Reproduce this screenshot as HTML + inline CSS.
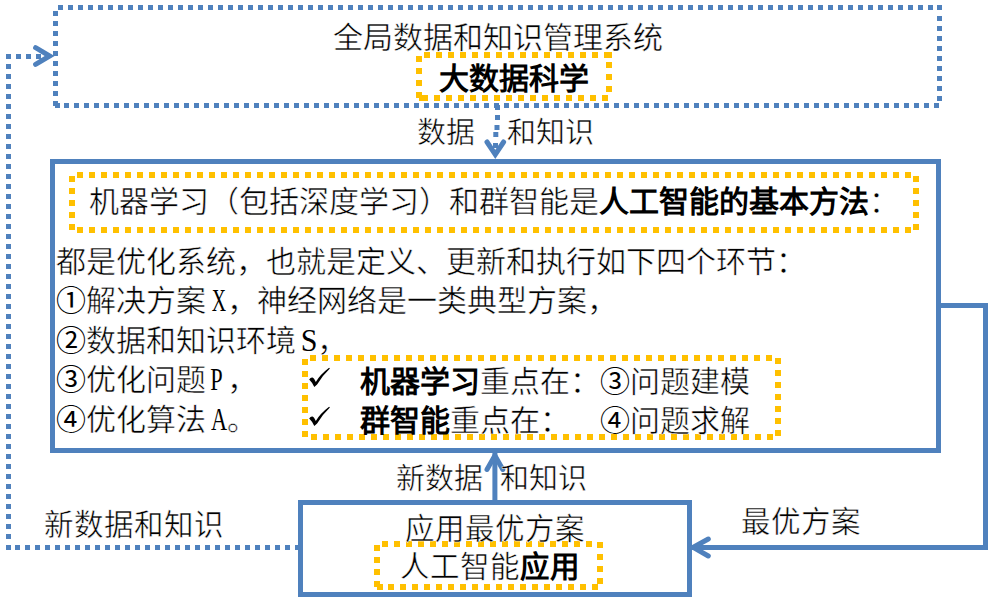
<!DOCTYPE html>
<html lang="zh-CN">
<head>
<meta charset="utf-8">
<style>
html,body{margin:0;padding:0;background:#fff;}
body{width:994px;height:605px;position:relative;overflow:hidden;font-family:"Liberation Serif",serif;color:#000;}
svg{position:absolute;left:0;top:0;}
.t{position:absolute;white-space:pre;font-size:30px;line-height:30px;-webkit-text-stroke:0.5px #fff;}
.b{font-family:"Liberation Sans",sans-serif;font-weight:bold;-webkit-text-stroke:0;}
.L{display:inline-block;width:20.5px;}
.n{-webkit-text-stroke:0;}
.L i{font-style:normal;display:inline-block;padding-left:5.5px;font-size:31px;transform:scaleX(.7);transform-origin:0 50%;-webkit-text-stroke:0;}
</style>
</head>
<body>
<svg width="994" height="605" viewBox="0 0 994 605">
<path fill="#4F81BD" d="M58 5h5v5h-5zM68 5h5v5h-5zM78 5h5v5h-5zM88 5h5v5h-5zM98 5h5v5h-5zM108 5h5v5h-5zM118 5h5v5h-5zM128 5h5v5h-5zM138 5h5v5h-5zM148 5h5v5h-5zM158 5h5v5h-5zM168 5h5v5h-5zM178 5h5v5h-5zM188 5h5v5h-5zM198 5h5v5h-5zM208 5h5v5h-5zM218 5h5v5h-5zM228 5h5v5h-5zM238 5h5v5h-5zM248 5h5v5h-5zM258 5h5v5h-5zM268 5h5v5h-5zM278 5h5v5h-5zM288 5h5v5h-5zM298 5h5v5h-5zM308 5h5v5h-5zM318 5h5v5h-5zM328 5h5v5h-5zM338 5h5v5h-5zM348 5h5v5h-5zM358 5h5v5h-5zM368 5h5v5h-5zM378 5h5v5h-5zM388 5h5v5h-5zM398 5h5v5h-5zM408 5h5v5h-5zM418 5h5v5h-5zM428 5h5v5h-5zM438 5h5v5h-5zM448 5h5v5h-5zM458 5h5v5h-5zM468 5h5v5h-5zM478 5h5v5h-5zM488 5h5v5h-5zM498 5h5v5h-5zM508 5h5v5h-5zM518 5h5v5h-5zM528 5h5v5h-5zM538 5h5v5h-5zM548 5h5v5h-5zM558 5h5v5h-5zM568 5h5v5h-5zM578 5h5v5h-5zM588 5h5v5h-5zM598 5h5v5h-5zM608 5h5v5h-5zM618 5h5v5h-5zM628 5h5v5h-5zM638 5h5v5h-5zM648 5h5v5h-5zM658 5h5v5h-5zM668 5h5v5h-5zM678 5h5v5h-5zM688 5h5v5h-5zM698 5h5v5h-5zM708 5h5v5h-5zM718 5h5v5h-5zM728 5h5v5h-5zM738 5h5v5h-5zM748 5h5v5h-5zM758 5h5v5h-5zM768 5h5v5h-5zM778 5h5v5h-5zM788 5h5v5h-5zM798 5h5v5h-5zM808 5h5v5h-5zM818 5h5v5h-5zM828 5h5v5h-5zM838 5h5v5h-5zM848 5h5v5h-5zM858 5h5v5h-5zM868 5h5v5h-5zM878 5h5v5h-5zM888 5h5v5h-5zM898 5h5v5h-5zM908 5h5v5h-5zM918 5h5v5h-5zM928 5h5v5h-5zM937 5h5v5h-5zM937 16h5v5h-5zM937 26h5v5h-5zM937 36h5v5h-5zM937 46h5v5h-5zM937 56h5v5h-5zM937 66h5v5h-5zM937 76h5v5h-5zM937 86h5v5h-5zM937 96h5v5h-5zM64 103h5v5h-5zM74 103h5v5h-5zM84 103h5v5h-5zM94 103h5v5h-5zM104 103h5v5h-5zM114 103h5v5h-5zM124 103h5v5h-5zM134 103h5v5h-5zM144 103h5v5h-5zM154 103h5v5h-5zM164 103h5v5h-5zM174 103h5v5h-5zM184 103h5v5h-5zM194 103h5v5h-5zM204 103h5v5h-5zM214 103h5v5h-5zM224 103h5v5h-5zM234 103h5v5h-5zM244 103h5v5h-5zM254 103h5v5h-5zM264 103h5v5h-5zM274 103h5v5h-5zM284 103h5v5h-5zM294 103h5v5h-5zM304 103h5v5h-5zM314 103h5v5h-5zM324 103h5v5h-5zM334 103h5v5h-5zM344 103h5v5h-5zM354 103h5v5h-5zM364 103h5v5h-5zM374 103h5v5h-5zM384 103h5v5h-5zM394 103h5v5h-5zM404 103h5v5h-5zM414 103h5v5h-5zM424 103h5v5h-5zM434 103h5v5h-5zM444 103h5v5h-5zM454 103h5v5h-5zM464 103h5v5h-5zM474 103h5v5h-5zM484 103h5v5h-5zM494 103h5v5h-5zM504 103h5v5h-5zM514 103h5v5h-5zM524 103h5v5h-5zM534 103h5v5h-5zM544 103h5v5h-5zM554 103h5v5h-5zM564 103h5v5h-5zM574 103h5v5h-5zM584 103h5v5h-5zM594 103h5v5h-5zM604 103h5v5h-5zM614 103h5v5h-5zM624 103h5v5h-5zM634 103h5v5h-5zM644 103h5v5h-5zM654 103h5v5h-5zM664 103h5v5h-5zM674 103h5v5h-5zM684 103h5v5h-5zM694 103h5v5h-5zM704 103h5v5h-5zM714 103h5v5h-5zM724 103h5v5h-5zM734 103h5v5h-5zM744 103h5v5h-5zM754 103h5v5h-5zM764 103h5v5h-5zM774 103h5v5h-5zM784 103h5v5h-5zM794 103h5v5h-5zM804 103h5v5h-5zM814 103h5v5h-5zM824 103h5v5h-5zM834 103h5v5h-5zM844 103h5v5h-5zM854 103h5v5h-5zM864 103h5v5h-5zM874 103h5v5h-5zM884 103h5v5h-5zM894 103h5v5h-5zM904 103h5v5h-5zM914 103h5v5h-5zM924 103h5v5h-5zM934 103h5v5h-5zM53 11h5v5h-5zM53 21h5v5h-5zM53 31h5v5h-5zM53 41h5v5h-5zM53 51h5v5h-5zM53 61h5v5h-5zM53 71h5v5h-5zM53 81h5v5h-5zM53 91h5v5h-5zM53 101h5v5h-5zM55 103h5v5h-5zM6 64h5v5h-5zM6 74h5v5h-5zM6 84h5v5h-5zM6 94h5v5h-5zM6 104h5v5h-5zM6 114h5v5h-5zM6 124h5v5h-5zM6 134h5v5h-5zM6 144h5v5h-5zM6 154h5v5h-5zM6 164h5v5h-5zM6 174h5v5h-5zM6 184h5v5h-5zM6 194h5v5h-5zM6 204h5v5h-5zM6 214h5v5h-5zM6 224h5v5h-5zM6 234h5v5h-5zM6 244h5v5h-5zM6 254h5v5h-5zM6 264h5v5h-5zM6 274h5v5h-5zM6 284h5v5h-5zM6 294h5v5h-5zM6 304h5v5h-5zM6 314h5v5h-5zM6 324h5v5h-5zM6 334h5v5h-5zM6 344h5v5h-5zM6 354h5v5h-5zM6 364h5v5h-5zM6 374h5v5h-5zM6 384h5v5h-5zM6 394h5v5h-5zM6 404h5v5h-5zM6 414h5v5h-5zM6 424h5v5h-5zM6 434h5v5h-5zM6 444h5v5h-5zM6 454h5v5h-5zM6 464h5v5h-5zM6 474h5v5h-5zM6 484h5v5h-5zM6 494h5v5h-5zM6 504h5v5h-5zM6 514h5v5h-5zM6 524h5v5h-5zM6 534h5v5h-5zM6 545h5v5h-5zM6 54h5v5h-5zM15 545h5v5h-5zM25 545h5v5h-5zM35 545h5v5h-5zM45 545h5v5h-5zM55 545h5v5h-5zM65 545h5v5h-5zM75 545h5v5h-5zM85 545h5v5h-5zM95 545h5v5h-5zM105 545h5v5h-5zM115 545h5v5h-5zM125 545h5v5h-5zM135 545h5v5h-5zM145 545h5v5h-5zM155 545h5v5h-5zM165 545h5v5h-5zM175 545h5v5h-5zM185 545h5v5h-5zM195 545h5v5h-5zM205 545h5v5h-5zM215 545h5v5h-5zM225 545h5v5h-5zM235 545h5v5h-5zM245 545h5v5h-5zM255 545h5v5h-5zM265 545h5v5h-5zM275 545h5v5h-5zM285 545h5v5h-5zM295 545h5v5h-5zM16 54h5v5h-5zM26 54h5v5h-5zM36 54h5v5h-5zM495 105h5v5h-5zM495 115h5v5h-5zM494.5 125h5v5h-5zM493.3 132h5v5h-5zM493 143h5v5h-5z"/>
<path fill="#FFC000" d="M424 52h6v6h-6zM436 52h6v6h-6zM448 52h6v6h-6zM460 52h6v6h-6zM472 52h6v6h-6zM484 52h6v6h-6zM496 52h6v6h-6zM508 52h6v6h-6zM520 52h6v6h-6zM532 52h6v6h-6zM544 52h6v6h-6zM556 52h6v6h-6zM568 52h6v6h-6zM580 52h6v6h-6zM592 52h6v6h-6zM604 52h6v6h-6zM606 52h6v6h-6zM416 56h6v6h-6zM416 68h6v6h-6zM416 80h6v6h-6zM416 92h6v6h-6zM419 95h6v6h-6zM422 95h6v6h-6zM434 95h6v6h-6zM446 95h6v6h-6zM458 95h6v6h-6zM470 95h6v6h-6zM482 95h6v6h-6zM494 95h6v6h-6zM506 95h6v6h-6zM518 95h6v6h-6zM530 95h6v6h-6zM542 95h6v6h-6zM554 95h6v6h-6zM566 95h6v6h-6zM578 95h6v6h-6zM590 95h6v6h-6zM602 95h6v6h-6zM606 62h6v6h-6zM606 74h6v6h-6zM606 86h6v6h-6zM77 172h6v6h-6zM89 172h6v6h-6zM101 172h6v6h-6zM113 172h6v6h-6zM125 172h6v6h-6zM137 172h6v6h-6zM149 172h6v6h-6zM161 172h6v6h-6zM173 172h6v6h-6zM185 172h6v6h-6zM197 172h6v6h-6zM209 172h6v6h-6zM221 172h6v6h-6zM233 172h6v6h-6zM245 172h6v6h-6zM257 172h6v6h-6zM269 172h6v6h-6zM281 172h6v6h-6zM293 172h6v6h-6zM305 172h6v6h-6zM317 172h6v6h-6zM329 172h6v6h-6zM341 172h6v6h-6zM353 172h6v6h-6zM365 172h6v6h-6zM377 172h6v6h-6zM389 172h6v6h-6zM401 172h6v6h-6zM413 172h6v6h-6zM425 172h6v6h-6zM437 172h6v6h-6zM449 172h6v6h-6zM461 172h6v6h-6zM473 172h6v6h-6zM485 172h6v6h-6zM497 172h6v6h-6zM509 172h6v6h-6zM521 172h6v6h-6zM533 172h6v6h-6zM545 172h6v6h-6zM557 172h6v6h-6zM569 172h6v6h-6zM581 172h6v6h-6zM593 172h6v6h-6zM605 172h6v6h-6zM617 172h6v6h-6zM629 172h6v6h-6zM641 172h6v6h-6zM653 172h6v6h-6zM665 172h6v6h-6zM677 172h6v6h-6zM689 172h6v6h-6zM701 172h6v6h-6zM713 172h6v6h-6zM725 172h6v6h-6zM737 172h6v6h-6zM749 172h6v6h-6zM761 172h6v6h-6zM773 172h6v6h-6zM785 172h6v6h-6zM797 172h6v6h-6zM809 172h6v6h-6zM821 172h6v6h-6zM833 172h6v6h-6zM845 172h6v6h-6zM857 172h6v6h-6zM869 172h6v6h-6zM881 172h6v6h-6zM893 172h6v6h-6zM905 172h6v6h-6zM77 227h6v6h-6zM89 227h6v6h-6zM101 227h6v6h-6zM113 227h6v6h-6zM125 227h6v6h-6zM137 227h6v6h-6zM149 227h6v6h-6zM161 227h6v6h-6zM173 227h6v6h-6zM185 227h6v6h-6zM197 227h6v6h-6zM209 227h6v6h-6zM221 227h6v6h-6zM233 227h6v6h-6zM245 227h6v6h-6zM257 227h6v6h-6zM269 227h6v6h-6zM281 227h6v6h-6zM293 227h6v6h-6zM305 227h6v6h-6zM317 227h6v6h-6zM329 227h6v6h-6zM341 227h6v6h-6zM353 227h6v6h-6zM365 227h6v6h-6zM377 227h6v6h-6zM389 227h6v6h-6zM401 227h6v6h-6zM413 227h6v6h-6zM425 227h6v6h-6zM437 227h6v6h-6zM449 227h6v6h-6zM461 227h6v6h-6zM473 227h6v6h-6zM485 227h6v6h-6zM497 227h6v6h-6zM509 227h6v6h-6zM521 227h6v6h-6zM533 227h6v6h-6zM545 227h6v6h-6zM557 227h6v6h-6zM569 227h6v6h-6zM581 227h6v6h-6zM593 227h6v6h-6zM605 227h6v6h-6zM617 227h6v6h-6zM629 227h6v6h-6zM641 227h6v6h-6zM653 227h6v6h-6zM665 227h6v6h-6zM677 227h6v6h-6zM689 227h6v6h-6zM701 227h6v6h-6zM713 227h6v6h-6zM725 227h6v6h-6zM737 227h6v6h-6zM749 227h6v6h-6zM761 227h6v6h-6zM773 227h6v6h-6zM785 227h6v6h-6zM797 227h6v6h-6zM809 227h6v6h-6zM821 227h6v6h-6zM833 227h6v6h-6zM845 227h6v6h-6zM857 227h6v6h-6zM869 227h6v6h-6zM881 227h6v6h-6zM893 227h6v6h-6zM905 227h6v6h-6zM69 176h6v6h-6zM69 188h6v6h-6zM69 200h6v6h-6zM69 212h6v6h-6zM69 224h6v6h-6zM913 176h6v6h-6zM913 188h6v6h-6zM913 200h6v6h-6zM913 212h6v6h-6zM913 224h6v6h-6zM310 355h6v6h-6zM322 355h6v6h-6zM334 355h6v6h-6zM346 355h6v6h-6zM358 355h6v6h-6zM370 355h6v6h-6zM382 355h6v6h-6zM394 355h6v6h-6zM406 355h6v6h-6zM418 355h6v6h-6zM430 355h6v6h-6zM442 355h6v6h-6zM454 355h6v6h-6zM466 355h6v6h-6zM478 355h6v6h-6zM490 355h6v6h-6zM502 355h6v6h-6zM514 355h6v6h-6zM526 355h6v6h-6zM538 355h6v6h-6zM550 355h6v6h-6zM562 355h6v6h-6zM574 355h6v6h-6zM586 355h6v6h-6zM598 355h6v6h-6zM610 355h6v6h-6zM622 355h6v6h-6zM634 355h6v6h-6zM646 355h6v6h-6zM658 355h6v6h-6zM670 355h6v6h-6zM682 355h6v6h-6zM694 355h6v6h-6zM706 355h6v6h-6zM718 355h6v6h-6zM730 355h6v6h-6zM742 355h6v6h-6zM754 355h6v6h-6zM766 355h6v6h-6zM775 358h6v6h-6zM775 370h6v6h-6zM775 382h6v6h-6zM775 394h6v6h-6zM775 406h6v6h-6zM775 418h6v6h-6zM775 430h6v6h-6zM311 434h6v6h-6zM323 434h6v6h-6zM335 434h6v6h-6zM347 434h6v6h-6zM359 434h6v6h-6zM371 434h6v6h-6zM383 434h6v6h-6zM395 434h6v6h-6zM407 434h6v6h-6zM419 434h6v6h-6zM431 434h6v6h-6zM443 434h6v6h-6zM455 434h6v6h-6zM467 434h6v6h-6zM479 434h6v6h-6zM491 434h6v6h-6zM503 434h6v6h-6zM515 434h6v6h-6zM527 434h6v6h-6zM539 434h6v6h-6zM551 434h6v6h-6zM563 434h6v6h-6zM575 434h6v6h-6zM587 434h6v6h-6zM599 434h6v6h-6zM611 434h6v6h-6zM623 434h6v6h-6zM635 434h6v6h-6zM647 434h6v6h-6zM659 434h6v6h-6zM671 434h6v6h-6zM683 434h6v6h-6zM695 434h6v6h-6zM707 434h6v6h-6zM719 434h6v6h-6zM731 434h6v6h-6zM743 434h6v6h-6zM755 434h6v6h-6zM767 434h6v6h-6zM302 359h6v6h-6zM302 371h6v6h-6zM302 383h6v6h-6zM302 395h6v6h-6zM302 407h6v6h-6zM302 419h6v6h-6zM302 431h6v6h-6zM382 541h6v6h-6zM394 541h6v6h-6zM406 541h6v6h-6zM418 541h6v6h-6zM430 541h6v6h-6zM442 541h6v6h-6zM454 541h6v6h-6zM466 541h6v6h-6zM478 541h6v6h-6zM490 541h6v6h-6zM502 541h6v6h-6zM514 541h6v6h-6zM526 541h6v6h-6zM538 541h6v6h-6zM550 541h6v6h-6zM562 541h6v6h-6zM574 541h6v6h-6zM586 541h6v6h-6zM597 542h6v6h-6zM374 545h6v6h-6zM374 557h6v6h-6zM374 569h6v6h-6zM374 581h6v6h-6zM377 584h6v6h-6zM388 584h6v6h-6zM400 584h6v6h-6zM412 584h6v6h-6zM424 584h6v6h-6zM436 584h6v6h-6zM448 584h6v6h-6zM460 584h6v6h-6zM472 584h6v6h-6zM484 584h6v6h-6zM496 584h6v6h-6zM508 584h6v6h-6zM520 584h6v6h-6zM532 584h6v6h-6zM544 584h6v6h-6zM556 584h6v6h-6zM568 584h6v6h-6zM580 584h6v6h-6zM592 584h6v6h-6zM597 554h6v6h-6zM597 566h6v6h-6zM597 578h6v6h-6z"/>
<g fill="none" stroke="#4F81BD" stroke-width="5">
<rect x="52.5" y="161.5" width="886" height="289"/>
<rect x="300.5" y="502.5" width="389" height="92"/>
<polyline points="938.5,305.5 985.5,305.5 985.5,547.5 692,547.5"/>
<line x1="494.9" y1="500" x2="494.9" y2="453"/>
</g>
<g fill="none" stroke="#4F81BD" stroke-width="5" stroke-linecap="round" stroke-linejoin="miter">
<polyline points="35.6,47.7 49.7,56 35.6,64.4"/>
<polyline points="487,142 495.3,154.5 503.6,142"/>
<polyline points="487,469.5 494.9,455.6 502.8,469.5"/>
<polyline points="708.3,539 693.2,547.3 708.3,556"/>
</g>
<path id="ck" fill="#000" d="M309.2 379.4Q310.6 377.3 312.5 377.6Q314 378 315.8 382Q320.3 374.4 329.1 367.8L329.9 368.4Q323 374.8 317.1 384.4L314.3 386.9Q312.4 382.5 309.2 379.4Z"/>
<use href="#ck" y="39"/>
</svg>
<div class="t" style="left:332.5px;top:23px">全局数据和知识管理系统</div>
<div class="t b" style="left:439px;top:64px">大数据科学</div>
<div class="t" style="left:417px;top:118px;font-size:29px">数据</div>
<div class="t" style="left:507px;top:118px;font-size:29px">和知识</div>
<div class="t" style="left:89px;top:187px">机器学习（包括深度学习）和群智能是<span class="b">人工智能的基本方法</span>：</div>
<div class="t" style="left:56px;top:247px">都是优化系统，也就是定义、更新和执行如下四个环节：</div>
<div class="t" style="left:56px;top:286px"><span class="n">①</span>解决方案<span class="L"><i style="transform:scaleX(.64);padding-left:9px">X</i></span>，神经网络是一类典型方案，</div>
<div class="t" style="left:56px;top:326px"><span class="n">②</span>数据和知识环境<span class="L"><i style="transform:scaleX(.97);padding-left:5px">S</i></span>，</div>
<div class="t" style="left:56px;top:365px"><span class="n">③</span>优化问题<span class="L"><i style="transform:scaleX(.72);padding-left:6px">P</i></span>，</div>
<div class="t" style="left:56px;top:405px"><span class="n">④</span>优化算法<span class="L"><i style="transform:scaleX(.72);padding-left:7px">A</i></span>。</div>
<div class="t" style="left:360px;top:367px"><span class="b">机器学习</span>重点在：</div>
<div class="t" style="left:600px;top:367px"><span class="n">③</span>问题建模</div>
<div class="t" style="left:360px;top:406px"><span class="b">群智能</span>重点在：</div>
<div class="t" style="left:600px;top:406px"><span class="n">④</span>问题求解</div>
<div class="t" style="left:396px;top:464px;font-size:29px">新数据</div>
<div class="t" style="left:500px;top:464px;font-size:29px">和知识</div>
<div class="t" style="left:405px;top:514px;font-size:29.5px">应用最优方案</div>
<div class="t" style="left:400px;top:552px;font-size:29.5px">人工智能<span class="b">应用</span></div>
<div class="t" style="left:44px;top:510px;font-size:29.5px">新数据和知识</div>
<div class="t" style="left:741px;top:507px;font-size:29.5px">最优方案</div>

</body>
</html>
